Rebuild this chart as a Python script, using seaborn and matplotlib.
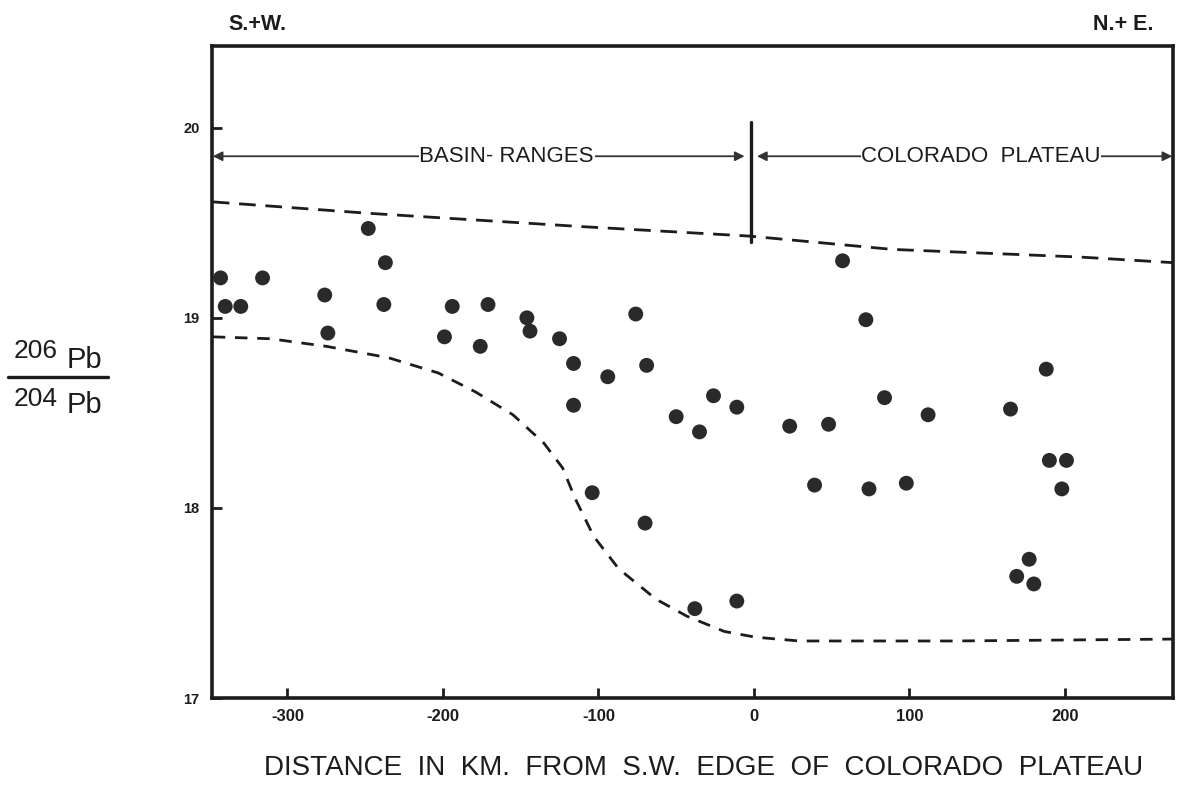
import matplotlib
matplotlib.use("Agg")
import matplotlib.pyplot as plt
from matplotlib.lines import Line2D
import seaborn as sns
import pandas as pd

# Lead isotope ratios of ore samples against distance from the SW edge of the Colorado Plateau
dist_km = [-343, -340, -330, -316, -276, -274, -248, -237, -238, -199, -194, -176,
           -171, -146, -144, -125, -116, -116, -76, -94, -69, -104, -70, -50,
           -35, -26, -11, -38, -11, 23, 39, 48, 57, 72, 74, 84,
           98, 112, 165, 188, 190, 201, 198, 177, 169, 180]
pb_ratio = [19.21, 19.06, 19.06, 19.21, 19.12, 18.92, 19.47, 19.29, 19.07, 18.90, 19.06, 18.85,
            19.07, 19.00, 18.93, 18.89, 18.76, 18.54, 19.02, 18.69, 18.75, 18.08, 17.92, 18.48,
            18.40, 18.59, 18.53, 17.47, 17.51, 18.43, 18.12, 18.44, 19.30, 18.99, 18.10, 18.58,
            18.13, 18.49, 18.52, 18.73, 18.25, 18.25, 18.10, 17.73, 17.64, 17.60]

# Upper and lower envelope guides
upper_x = [-348, -248, -111, -3, 89, 209, 270]
upper_y = [19.61, 19.55, 19.48, 19.43, 19.36, 19.32, 19.29]
lower_x = [-348, -311, -275, -235, -203, -179, -155, -135, -123, -115, -103, -87,
           -63, -43, -19, 1, 29, 49, 129, 270]
lower_y = [18.90, 18.89, 18.85, 18.79, 18.71, 18.61, 18.49, 18.34, 18.21, 18.05, 17.85, 17.68,
           17.52, 17.43, 17.35, 17.32, 17.30, 17.30, 17.30, 17.31]

x_ticks = [-300, -200, -100, 0, 100, 200]
y_ticks = [17, 18, 19, 20]

region_labels = ["BASIN- RANGES", "COLORADO  PLATEAU"]
direction_labels = ["S.+W.", "N.+ E."]
x_title = "DISTANCE  IN  KM.  FROM  S.W.  EDGE  OF  COLORADO  PLATEAU"

sns.set_style("ticks")
plt.rcParams["font.family"] = ["Liberation Sans", "DejaVu Sans"]

W, H = 1182, 790
fig = plt.figure(figsize=(W / 100, H / 100), dpi=100)


def fx(px):
    return px / W


def fy(py):
    return 1 - py / H


ax = fig.add_axes([fx(212), fy(698), (1173 - 212) / W, (698 - 46) / H])
ax.set_xlim(-348.5, 269.5)
ax.set_ylim(17, 20.43)

ink = "#1c1c1c"
pts = pd.DataFrame({"dist": dist_km, "ratio": pb_ratio})
sns.scatterplot(data=pts, x="dist", y="ratio", ax=ax, s=115, color="#2a2a2a",
                edgecolor="none", zorder=4)

sns.lineplot(x=upper_x, y=upper_y, ax=ax, color=ink, lw=2.0,
             linestyle=(0, (6, 3.5)), sort=False)
sns.lineplot(x=lower_x, y=lower_y, ax=ax, color=ink, lw=2.0,
             linestyle=(0, (4.5, 3.5)), sort=False)

# boundary between the provinces
ax.plot([-2, -2], [19.40, 20.03], color=ink, lw=2.4, zorder=3)

# province arrows
arrow_y = 19.85
for x0, x1, xc, label in [(-348, -6, -159, region_labels[0]),
                          (2, 269, 146, region_labels[1])]:
    ax.annotate("", xy=(x0, arrow_y), xytext=(x1, arrow_y),
                arrowprops=dict(arrowstyle="<|-|>", color="#333333", lw=1.3,
                                mutation_scale=14, shrinkA=0, shrinkB=0))
    ax.text(xc, arrow_y, label, ha="center", va="center", fontsize=16, color=ink,
            bbox=dict(facecolor="white", edgecolor="none", pad=0.5), zorder=5)

for side in ["left", "right", "top", "bottom"]:
    ax.spines[side].set_visible(True)
    ax.spines[side].set_linewidth(2.6)
    ax.spines[side].set_color(ink)

ax.set_xticks(x_ticks)
ax.set_xticklabels([f"{v:d}" for v in x_ticks], fontsize=12, fontweight="bold")
ax.set_yticks(y_ticks)
ax.set_yticklabels([f"{v:d}" for v in y_ticks], fontsize=10.5, fontweight="bold")
ax.tick_params(axis="both", direction="in", length=7, width=2, color=ink, labelcolor=ink)
ax.tick_params(axis="x", pad=8)
ax.tick_params(axis="y", pad=9)
ax.set_xlabel("")
ax.set_ylabel("")

# x-axis title
fig.text(fx(704), fy(768), x_title, ha="center", va="center", fontsize=20, color=ink)

# direction labels
fig.text(fx(228), fy(30), direction_labels[0], ha="left", va="baseline",
         fontsize=15.5, fontweight="bold", color=ink)
fig.text(fx(1093), fy(30), direction_labels[1], ha="left", va="baseline",
         fontsize=15.5, fontweight="bold", color=ink)

# isotope ratio label
fig.text(fx(14), fy(358), "206", ha="left", va="baseline", fontsize=19, color=ink)
fig.text(fx(67), fy(368), "Pb", ha="left", va="baseline", fontsize=21, color=ink)
fig.add_artist(Line2D([fx(8), fx(108)], [fy(377), fy(377)], color=ink, lw=2.4))
fig.text(fx(14), fy(406), "204", ha="left", va="baseline", fontsize=19, color=ink)
fig.text(fx(67), fy(413), "Pb", ha="left", va="baseline", fontsize=21, color=ink)

fig.savefig("out.png", dpi=100, facecolor="white")
